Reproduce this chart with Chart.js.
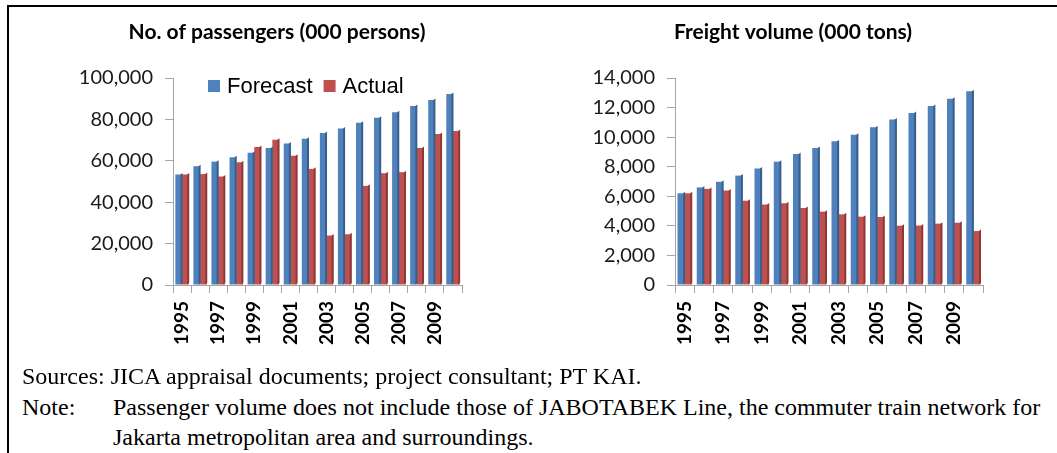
<!DOCTYPE html>
<html>
<head>
<meta charset="utf-8">
<script src="https://cdn.jsdelivr.net/npm/chart.js@4/dist/chart.umd.min.js"></script>
<style>
  html, body { margin: 0; padding: 0; background: #ffffff; }
  body { width: 1057px; height: 453px; position: relative; overflow: hidden; }
  #frame { position: absolute; left: 7px; top: 5px; width: 1100px; height: 500px;
           border-top: 2px solid #000; border-left: 2px solid #000; }
  .cv { position: absolute; top: 0; }
  .foot { position: absolute; font-family: "Liberation Serif", "Times New Roman", serif;
          font-size: 24px; color: #000; white-space: nowrap; line-height: 1; }
</style>
</head>
<body>
<div id="frame"></div>
<canvas id="c1" class="cv" style="left:0px" width="530" height="365"></canvas>
<canvas id="c2" class="cv" style="left:530px" width="527" height="365"></canvas>
<div class="foot" style="left:22px; top:364px;">Sources: JICA appraisal documents; project consultant; PT KAI.</div>
<div class="foot" style="left:22px; top:395px;">Note:</div>
<div class="foot" style="left:113px; top:395px;">Passenger volume does not include those of JABOTABEK Line, the commuter train network for</div>
<div class="foot" style="left:113px; top:425px;">Jakarta metropolitan area and surroundings.</div>
<script>
const years = ['1995','1996','1997','1998','1999','2000','2001','2002','2003','2004','2005','2006','2007','2008','2009','2010'];
const paxForecast = [53400, 57400, 59600, 61700, 63900, 66200, 68400, 70700, 73400, 75600, 78400, 80800, 83500, 86500, 89400, 92300];
const paxActual   = [53400, 53600, 52400, 59300, 66700, 70200, 62500, 56100, 23900, 24500, 47900, 54000, 54500, 66200, 72900, 74400];
const freightForecast = [6200, 6600, 6980, 7400, 7880, 8340, 8860, 9260, 9720, 10170, 10670, 11190, 11640, 12100, 12600, 13100];
const freightActual   = [6200, 6500, 6390, 5700, 5440, 5530, 5210, 4960, 4780, 4620, 4600, 4010, 4020, 4150, 4210, 3650];
const seriesNames = ['Forecast', 'Actual'];
const titles = ['No. of passengers (000 persons)', 'Freight volume (000 tons)'];

const BLUE = '#4F81BD', BLUE_D = '#385D8A';
const RED = '#C0504D', RED_D = '#8C3836';
const AXIS = '#A6A6A6';

const sidePlugin = {
  id: 'side3d',
  afterDatasetDraw(chart, args) {
    const meta = args.meta;
    const ctx = chart.ctx;
    const dark = args.index === 0 ? BLUE_D : RED_D;
    ctx.save();
    meta.data.forEach(el => {
      const p = el.getProps(['x','y','base','width'], true);
      const r = p.x + p.width / 2;
      ctx.fillStyle = dark;
      ctx.beginPath();
      ctx.moveTo(r - 1.5, p.y);
      ctx.lineTo(r + 0.5, p.y - 1.5);
      ctx.lineTo(r + 0.5, p.base - 1.5);
      ctx.lineTo(r - 1.5, p.base);
      ctx.closePath();
      ctx.fill();
    });
    ctx.restore();
  }
};

const titlePlugin = {
  id: 'fixedTitle',
  afterDraw(chart, args, opts) {
    const ctx = chart.ctx;
    ctx.save();
    ctx.font = 'bold 21px Lato, "Open Sans", sans-serif';
    ctx.fillStyle = '#000';
    ctx.textAlign = 'center';
    ctx.textBaseline = 'middle';
    ctx.fillText(opts.text, opts.x, opts.y);
    if (opts.legend) {
      const lg = opts.legend;
      ctx.font = '22px "Liberation Sans", Arial, sans-serif';
      ctx.textAlign = 'left';
      let x = lg.x;
      chart.data.datasets.forEach((ds, i) => {
        ctx.fillStyle = ds.backgroundColor;
        ctx.fillRect(x, lg.y - 6, 12, 12);
        x += 19;
        ctx.fillStyle = '#000';
        ctx.fillText(ds.label, x, lg.y + 1);
        x += ctx.measureText(ds.label).width + 11;
      });
    }
    ctx.restore();
  }
};

function makeChart(id, fc, ac, max, step, yw, padRight, title, titleX, legend) {
  return new Chart(document.getElementById(id), {
    type: 'bar',
    data: {
      labels: years,
      datasets: [
        { label: seriesNames[0], data: fc, backgroundColor: BLUE },
        { label: seriesNames[1], data: ac, backgroundColor: RED }
      ]
    },
    options: {
      responsive: false,
      animation: false,
      categoryPercentage: 0.74,
      barPercentage: 1.0,
      layout: { padding: { top: 78, right: padRight, bottom: 0, left: 0 } },
      plugins: {
        legend: { display: false },
        title: { display: false },
        tooltip: { enabled: false },
        fixedTitle: { text: title, x: titleX, y: 32, legend: legend }
      },
      scales: {
        x: {
          afterFit(s) { s.height = 80; },
          grid: { offset: true, drawOnChartArea: false, drawTicks: true, tickLength: 8, color: AXIS },
          border: { color: AXIS, width: 1 },
          ticks: {
            autoSkip: false, minRotation: 90, maxRotation: 90, padding: 8,
            color: '#000',
            font: { family: 'Lato, "Open Sans", sans-serif', size: 19, weight: 'bold' },
            callback(v, i) { return i % 2 === 0 ? this.getLabelForValue(v) : ''; }
          }
        },
        y: {
          min: 0, max: max,
          afterFit(s) { s.width = yw; },
          grid: { drawOnChartArea: false, drawTicks: true, tickLength: 8, color: AXIS },
          border: { color: AXIS, width: 1 },
          ticks: {
            stepSize: step, padding: 12, color: '#1a1a1a',
            font: { family: 'Lato, "Open Sans", sans-serif', size: 20 },
            callback(v) { return Number(v).toLocaleString('en-US'); }
          }
        }
      }
    },
    plugins: [sidePlugin, titlePlugin]
  });
}

makeChart('c1', paxForecast, paxActual, 100000, 20000, 173, 68, titles[0], 277, { x: 208, y: 86 });
makeChart('c2', freightForecast, freightActual, 14000, 2000, 145, 74, titles[1], 263, null);
</script>
</body>
</html>
